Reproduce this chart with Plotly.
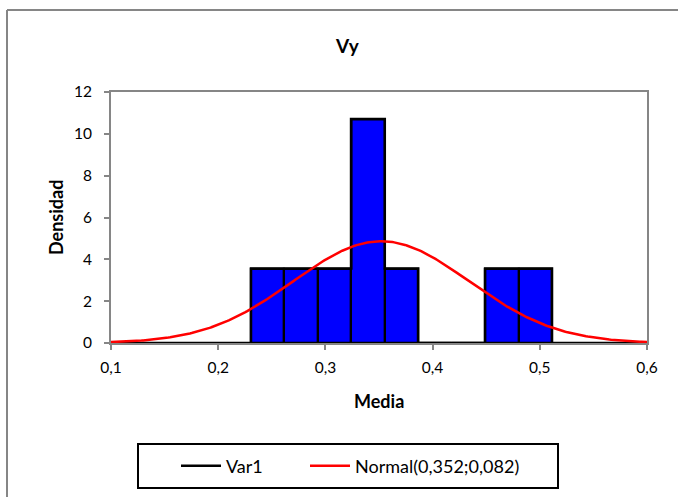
import numpy as np
import plotly.graph_objects as go

# Histogram of the sample means (9 observations), density scale
bin_edges = [0.2306, 0.2618, 0.2930, 0.3242, 0.3554, 0.3866, 0.4178, 0.4490, 0.4802, 0.5114]
densities = [3.56, 3.56, 3.56, 10.70, 3.56, 0.0, 0.0, 3.56, 3.56]

# Fitted normal distribution
norm_mean = 0.352
norm_sd = 0.082

x_ticks = [0.1, 0.2, 0.3, 0.4, 0.5, 0.6]
x_tick_labels = ["0,1", "0,2", "0,3", "0,4", "0,5", "0,6"]
y_ticks = [0, 2, 4, 6, 8, 10, 12]

W, H = 678, 497
ML, MR, MT, MB = 111, 31, 92, 154
pw = W - ML - MR
ph = H - MT - MB


def px_x(v):
    return (v - ML) / pw


def px_y(v):
    return (H - MB - v) / ph


edges = np.array(bin_edges)
centers = (edges[:-1] + edges[1:]) / 2
widths = np.diff(edges)

xs = np.linspace(0.1, 0.6, 300)
pdf = np.exp(-0.5 * ((xs - norm_mean) / norm_sd) ** 2) / (norm_sd * np.sqrt(2 * np.pi))

font_family = "Lato, 'Open Sans', sans-serif"
axis_grey = "#868686"

fig = go.Figure()

fig.add_trace(go.Bar(
    x=centers, y=densities, width=widths,
    marker=dict(color="#0000FF", line=dict(color="black", width=2.2)),
    showlegend=False, hoverinfo="skip",
))

fig.add_trace(go.Scatter(
    x=[0.1] + bin_edges + [0.6],
    y=[0] + densities + [0, 0],
    mode="lines", line=dict(color="black", width=2.5, shape="hv"),
    name="Var1", legend="legend",
))

fig.add_trace(go.Scatter(
    x=xs, y=pdf, mode="lines",
    line=dict(color="#FF0000", width=2.5),
    name="Normal(0,352;0,082)", legend="legend2",
))

# Outer chart frame (top and left edges lie inside the page) and legend box
fig.add_shape(type="line", xref="paper", yref="paper",
              x0=px_x(7), x1=px_x(W), y0=px_y(10), y1=px_y(10),
              line=dict(color=axis_grey, width=2), layer="below")
fig.add_shape(type="line", xref="paper", yref="paper",
              x0=px_x(7), x1=px_x(7), y0=px_y(10), y1=px_y(H),
              line=dict(color=axis_grey, width=2), layer="below")
fig.add_shape(type="rect", xref="paper", yref="paper",
              x0=px_x(138), x1=px_x(558), y0=px_y(488), y1=px_y(444),
              line=dict(color="black", width=2))

fig.add_annotation(text="<b>Vy</b>", xref="paper", yref="paper",
                   x=px_x(347), y=px_y(46), xanchor="center", yanchor="middle",
                   showarrow=False,
                   font=dict(size=19, color="black", family=font_family))
fig.add_annotation(text="<b>Media</b>", xref="paper", yref="paper",
                   x=px_x(379), y=px_y(401), xanchor="center", yanchor="middle",
                   showarrow=False,
                   font=dict(size=18, color="black", family=font_family))
fig.add_annotation(text="<b>Densidad</b>", xref="paper", yref="paper",
                   x=px_x(56), y=px_y(218), xanchor="center", yanchor="middle",
                   showarrow=False, textangle=-90,
                   font=dict(size=18, color="black", family=font_family))

tick_font = dict(size=15.5, color="black", family=font_family)

fig.update_xaxes(
    range=[0.1, 0.6], tickvals=x_ticks, ticktext=x_tick_labels,
    showgrid=False, zeroline=False, showline=True, linecolor=axis_grey,
    linewidth=2, mirror=True, ticks="outside", tickcolor=axis_grey,
    ticklen=5, tickwidth=1.5, ticklabelstandoff=4,
    tickfont=tick_font,
)
fig.update_yaxes(
    range=[0, 12], tickvals=y_ticks,
    showgrid=False, zeroline=False, showline=True, linecolor=axis_grey,
    linewidth=2, mirror=True, ticks="outside", tickcolor=axis_grey,
    ticklen=5, tickwidth=1.5, ticklabelstandoff=9,
    tickfont=tick_font,
)

legend_common = dict(
    orientation="h", yanchor="middle", xanchor="left",
    bgcolor="rgba(0,0,0,0)", borderwidth=0, itemwidth=40,
    font=dict(size=18, family=font_family, color="black"),
)

fig.update_layout(
    width=W, height=H,
    margin=dict(l=ML, r=MR, t=MT, b=MB, autoexpand=False),
    paper_bgcolor="white", plot_bgcolor="white",
    bargap=0,
    font=dict(family=font_family, color="black"),
    legend=dict(x=px_x(176), y=px_y(466), **legend_common),
    legend2=dict(x=px_x(305), y=px_y(466), **legend_common),
)

fig.write_html("out.html", config={"displayModeBar": False})
